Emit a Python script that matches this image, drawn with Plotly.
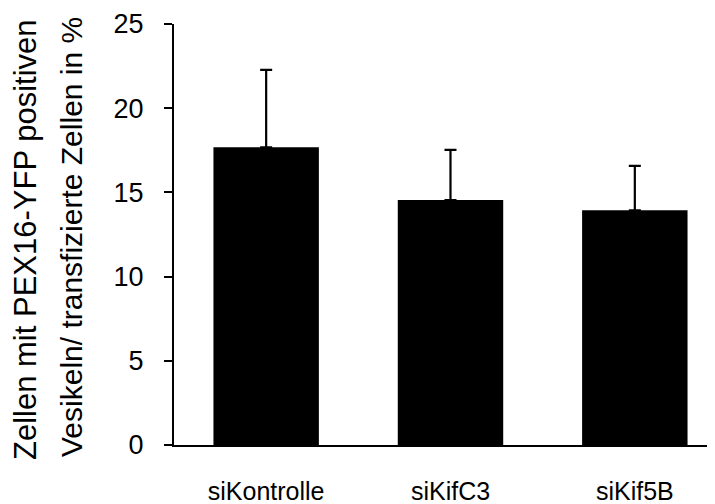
import plotly.graph_objects as go

categories = ["siKontrolle", "siKifC3", "siKif5B"]
values = [17.68, 14.55, 13.94]
errors = [4.59, 2.97, 2.63]
y_ticks = [0, 5, 10, 15, 20, 25]
title_line1 = "Zellen mit PEX16-YFP positiven"
title_line2 = "Vesikeln/ transfizierte Zellen in %"

FONT = "Liberation Sans, Arial, sans-serif"

fig = go.Figure()
fig.add_trace(go.Bar(
    x=list(range(len(categories))),
    y=values,
    width=0.572,
    marker=dict(color="black", line=dict(width=0)),
    error_y=dict(type="data", array=errors, symmetric=False, arrayminus=[0]*len(errors),
                 color="black", thickness=2.2, width=6, visible=True),
))

# the page body has an 8px margin: margins below compensate for it
fig.update_layout(
    template="none",
    width=715, height=504,
    margin=dict(l=166, r=8, t=16, b=67, pad=0),
    paper_bgcolor="white", plot_bgcolor="white",
    showlegend=False,
    font=dict(family=FONT, color="black"),
    xaxis=dict(
        automargin=False,
        range=[-0.5, 2.435],
        tickvals=list(range(len(categories))), ticktext=categories,
        showline=True, linecolor="black", linewidth=2,
        ticks="", showgrid=False, zeroline=False,
        tickfont=dict(size=25, family=FONT, color="black"),
        ticklabelstandoff=23,
    ),
    yaxis=dict(
        automargin=False,
        range=[0, 25], tickvals=y_ticks,
        showline=True, linecolor="black", linewidth=2,
        ticks="outside", ticklen=8, tickwidth=2, tickcolor="black",
        showgrid=False, zeroline=False,
        tickfont=dict(size=27, family=FONT, color="black"),
        ticklabelstandoff=15,
    ),
)

fig.add_annotation(text=title_line1, xref="paper", yref="paper",
                   x=(26 - 174) / 541, y=(445 - 240) / 421, textangle=-90,
                   showarrow=False, xanchor="center", yanchor="middle",
                   font=dict(size=31, family=FONT, color="black"))
fig.add_annotation(text=title_line2, xref="paper", yref="paper",
                   x=(71 - 174) / 541, y=(445 - 237) / 421, textangle=-90,
                   showarrow=False, xanchor="center", yanchor="middle",
                   font=dict(size=30, family=FONT, color="black"))

fig.write_html("out.html")
